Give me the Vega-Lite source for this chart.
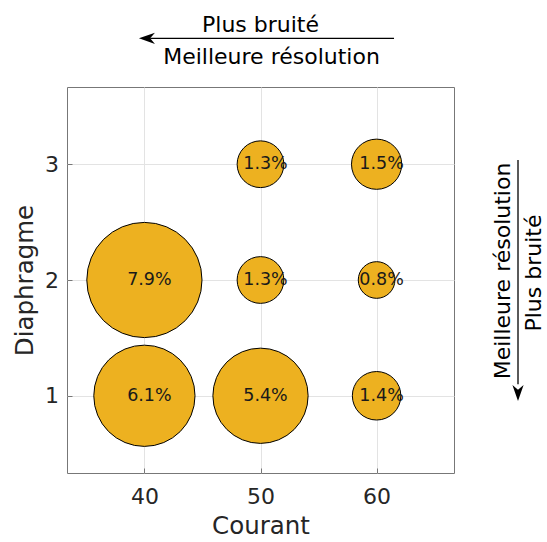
{
  "$schema": "https://vega.github.io/schema/vega-lite/v6.json",
  "width": 387,
  "height": 386,
  "autosize": {"type": "none"},
  "padding": {"left": 67, "top": 87, "right": 93, "bottom": 69},
  "background": "white",
  "config": {
    "font": "DejaVu Sans",
    "view": {"stroke": "#777777", "strokeWidth": 1}
  },
  "datasets": {
    "bubbles": [
      {"x": 40, "y": 1, "v": 6.1, "label": "6.1%"},
      {"x": 40, "y": 2, "v": 7.9, "label": "7.9%"},
      {"x": 50, "y": 1, "v": 5.4, "label": "5.4%"},
      {"x": 50, "y": 2, "v": 1.3, "label": "1.3%"},
      {"x": 50, "y": 3, "v": 1.3, "label": "1.3%"},
      {"x": 60, "y": 1, "v": 1.4, "label": "1.4%"},
      {"x": 60, "y": 2, "v": 0.8, "label": "0.8%"},
      {"x": 60, "y": 3, "v": 1.5, "label": "1.5%"}
    ],
    "notes": [
      {"x": 50.0, "y": 4.202, "label": "Plus bruité", "a": 0},
      {"x": 50.95, "y": 3.925, "label": "Meilleure résolution", "a": 0},
      {"x": 70.89, "y": 2.078, "label": "Meilleure résolution", "a": 270},
      {"x": 73.6, "y": 2.06, "label": "Plus bruité", "a": 270}
    ],
    "lines": [
      {"x": 40.5, "x2": 61.5, "y": 4.087, "y2": 4.087},
      {"x": 72.18, "x2": 72.18, "y": 3.036, "y2": 1.1}
    ],
    "heads": [
      {"x": 40.22, "y": 4.087, "a": 0},
      {"x": 72.18, "y": 1.024, "a": 270}
    ]
  },
  "encoding": {
    "x": {
      "field": "x",
      "type": "quantitative",
      "scale": {"domain": [33.333, 66.667], "nice": false, "zero": false},
      "axis": {
        "title": "Courant",
        "values": [40, 50, 60],
        "domain": false,
        "tickSize": -5,
        "tickColor": "#777777",
        "gridColor": "#e3e3e3",
        "labelFontSize": 22,
        "labelColor": "#262626",
        "labelPadding": 18.5,
        "titleFontSize": 24.5,
        "titleFontWeight": "normal",
        "titleColor": "#262626",
        "titlePadding": 7
      }
    },
    "y": {
      "field": "y",
      "type": "quantitative",
      "scale": {"domain": [0.333, 3.667], "nice": false, "zero": false},
      "axis": {
        "title": "Diaphragme",
        "values": [1, 2, 3],
        "domain": false,
        "tickSize": -5,
        "tickColor": "#777777",
        "gridColor": "#e3e3e3",
        "labelFontSize": 22,
        "labelColor": "#262626",
        "labelPadding": 13.5,
        "titleFontSize": 24.5,
        "titleFontWeight": "normal",
        "titleColor": "#262626",
        "titlePadding": 7.5
      }
    }
  },
  "layer": [
    {
      "data": {"name": "bubbles"},
      "mark": {"type": "point", "shape": "circle", "filled": true, "fill": "#EDB120", "stroke": "#000000", "strokeWidth": 1, "opacity": 1, "fillOpacity": 1},
      "encoding": {
        "size": {"field": "v", "type": "quantitative", "scale": {"type": "linear", "domain": [0, 10], "range": [0, 16800]}, "legend": null}
      }
    },
    {
      "data": {"name": "bubbles"},
      "mark": {"type": "text", "fontSize": 17.5, "color": "#1a1a1a", "dx": 5, "align": "center", "baseline": "middle"},
      "encoding": {
        "text": {"field": "label"}
      }
    },
    {
      "data": {"name": "notes"},
      "mark": {"type": "text", "fontSize": 22, "color": "#000000", "align": "center", "baseline": "middle", "clip": false},
      "encoding": {
        "text": {"field": "label"},
        "angle": {"field": "a", "type": "quantitative", "scale": null}
      }
    },
    {
      "data": {"name": "lines"},
      "mark": {"type": "rule", "color": "#000000", "strokeWidth": 1.3, "clip": false},
      "encoding": {
        "x2": {"field": "x2"},
        "y2": {"field": "y2"}
      }
    },
    {
      "data": {"name": "heads"},
      "mark": {"type": "point", "shape": "M-1,0L1,-0.7L0.4,0L1,0.7Z", "filled": true, "color": "#000000", "opacity": 1, "size": 256, "clip": false},
      "encoding": {
        "angle": {"field": "a", "type": "quantitative", "scale": null}
      }
    }
  ]
}
